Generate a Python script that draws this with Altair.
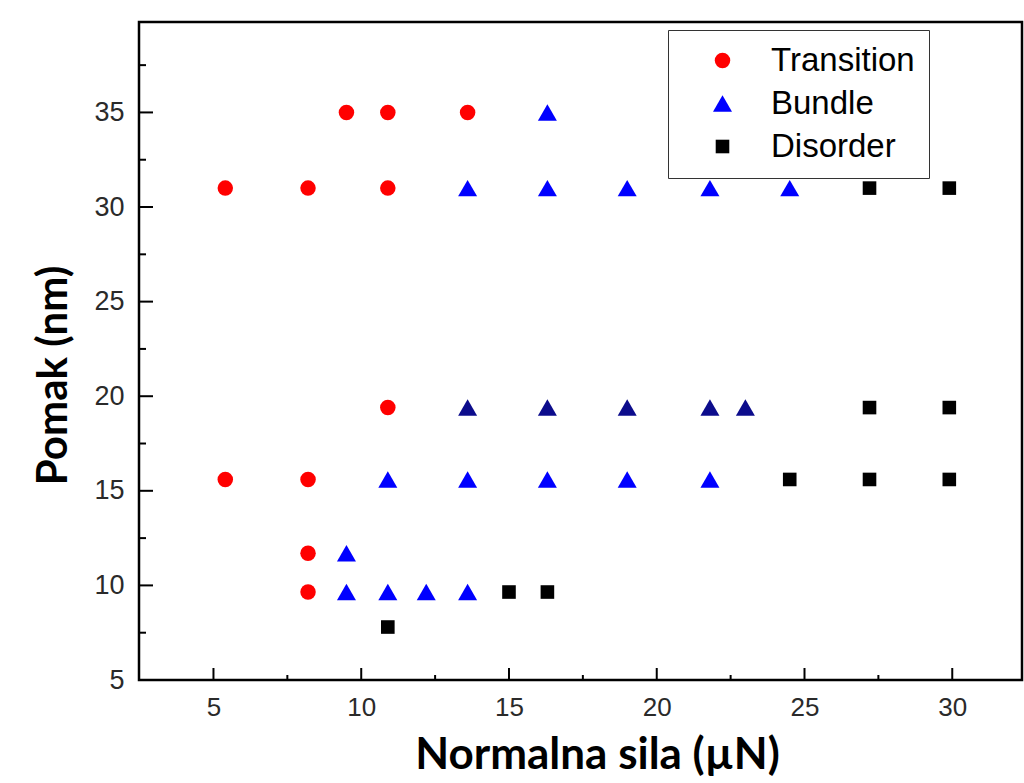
import altair as alt
import pandas as pd

# ---- data ----
trans_x = [5.4, 8.2, 10.9, 9.5, 10.9, 13.6, 10.9, 5.4, 8.2, 8.2, 8.2]
trans_y = [31, 31, 31, 35, 35, 35, 19.4, 15.6, 15.6, 11.7, 9.65]

bundle_x = [16.3, 13.6, 16.3, 19.0, 21.8, 24.5, 10.9, 13.6, 16.3, 19.0, 21.8, 9.5, 9.5, 10.9, 12.2, 13.6]
bundle_y = [35, 31, 31, 31, 31, 31, 15.6, 15.6, 15.6, 15.6, 15.6, 11.7, 9.65, 9.65, 9.65, 9.65]

# the 19.4 nm row of Bundle triangles is drawn in a darker blue
bundle_dark_x = [13.6, 16.3, 19.0, 21.8, 23.0]
bundle_dark_y = [19.4, 19.4, 19.4, 19.4, 19.4]

disorder_x = [27.2, 29.9, 27.2, 29.9, 24.5, 27.2, 29.9, 15.0, 16.3, 10.9]
disorder_y = [31, 31, 19.4, 19.4, 15.6, 15.6, 15.6, 9.65, 9.65, 7.8]

categories = ["Transition", "Bundle", "Disorder"]
cat_colors = ["#ff0000", "#0000ff", "#000000"]
cat_shapes = ["circle", "triangle-up", "square"]
cat_sizes = [240, 361, 185]

x_major = [5, 10, 15, 20, 25, 30]
x_minor = [7.5, 12.5, 17.5, 22.5, 27.5]
y_major = [5, 10, 15, 20, 25, 30, 35]
y_minor = [7.5, 12.5, 17.5, 22.5, 27.5, 32.5, 37.5]

x_title = "Normalna sila (\u00b5N)"
y_title = "Pomak (nm)"

# ---- tables ----
main = pd.DataFrame({
    "x": trans_x + bundle_x + disorder_x,
    "y": trans_y + bundle_y + disorder_y,
    "cat": ["Transition"] * len(trans_x) + ["Bundle"] * len(bundle_x) + ["Disorder"] * len(disorder_x),
})
dark = pd.DataFrame({"x": bundle_dark_x, "y": bundle_dark_y})

W, H = 883, 658
xs = alt.Scale(domain=[2.48, 32.36], nice=False, zero=False)
ys = alt.Scale(domain=[5, 39.78], nice=False, zero=False)

x_axis = alt.Axis(
    values=x_major, ticks=False, domain=False, grid=False,
    labelFont="Liberation Sans", labelFontSize=26, labelColor="#2a2a2a", labelPadding=14,
    title=x_title, titleFont="Lato", titleFontWeight="bold", titleFontSize=44, titleColor="#000000",
    titleX=458, titleY=88, titleBaseline="alphabetic", titleAlign="center",
)
y_axis = alt.Axis(
    values=y_major, ticks=False, domain=False, grid=False,
    labelFont="Liberation Sans", labelFontSize=27, labelColor="#2a2a2a", labelPadding=15,
    title=y_title, titleFont="Lato", titleFontWeight="bold", titleFontSize=42, titleColor="#000000",
    titleX=-73, titleY=353, titleBaseline="alphabetic", titleAlign="center", titleAngle=270,
)

legend = alt.Legend(
    title=None, orient="none", legendX=529, legendY=8,
    labelFont="Liberation Sans", labelFontSize=33, labelColor="#000000",
    strokeColor="#333333", fillColor="#ffffff", padding=14, rowPadding=9,
    symbolOffset=24, labelOffset=32, symbolStrokeWidth=0,
)

X = alt.X("x:Q", scale=xs, axis=x_axis, title=x_title)
Y = alt.Y("y:Q", scale=ys, axis=y_axis, title=y_title)

points = alt.Chart(main).mark_point(filled=True, opacity=1, strokeWidth=0).encode(
    x=X, y=Y,
    color=alt.Color("cat:N", scale=alt.Scale(domain=categories, range=cat_colors), legend=legend),
    shape=alt.Shape("cat:N", scale=alt.Scale(domain=categories, range=cat_shapes), legend=legend),
    size=alt.Size("cat:N", scale=alt.Scale(type="ordinal", domain=categories, range=cat_sizes), legend=legend),
)

dark_pts = alt.Chart(dark).mark_point(
    filled=True, opacity=1, strokeWidth=0, shape="triangle-up", size=361, color="#0c0c8c"
).encode(x=X, y=Y)

def xticks(vals, length):
    return alt.Chart(pd.DataFrame({"x": vals})).mark_rule(color="#000000", strokeWidth=2).encode(
        x=X, y=alt.value(H - length), y2=alt.value(H),
    )

def yticks(vals, length):
    return alt.Chart(pd.DataFrame({"y": vals})).mark_rule(color="#000000", strokeWidth=2).encode(
        y=Y, x=alt.value(0), x2=alt.value(length),
    )

chart = alt.layer(
    points, dark_pts,
    xticks(x_major, 12), xticks(x_minor, 5), yticks(y_major, 14), yticks(y_minor, 7),
).properties(
    width=W, height=H,
    autosize=alt.AutoSizeParams(type="none"),
    padding={"left": 139, "top": 22, "right": 2, "bottom": 103},
    background="#ffffff",
).configure_view(
    stroke="#000000", strokeWidth=2.5,
)

chart.save("out.html", embed_options={"renderer": "svg", "actions": False})
